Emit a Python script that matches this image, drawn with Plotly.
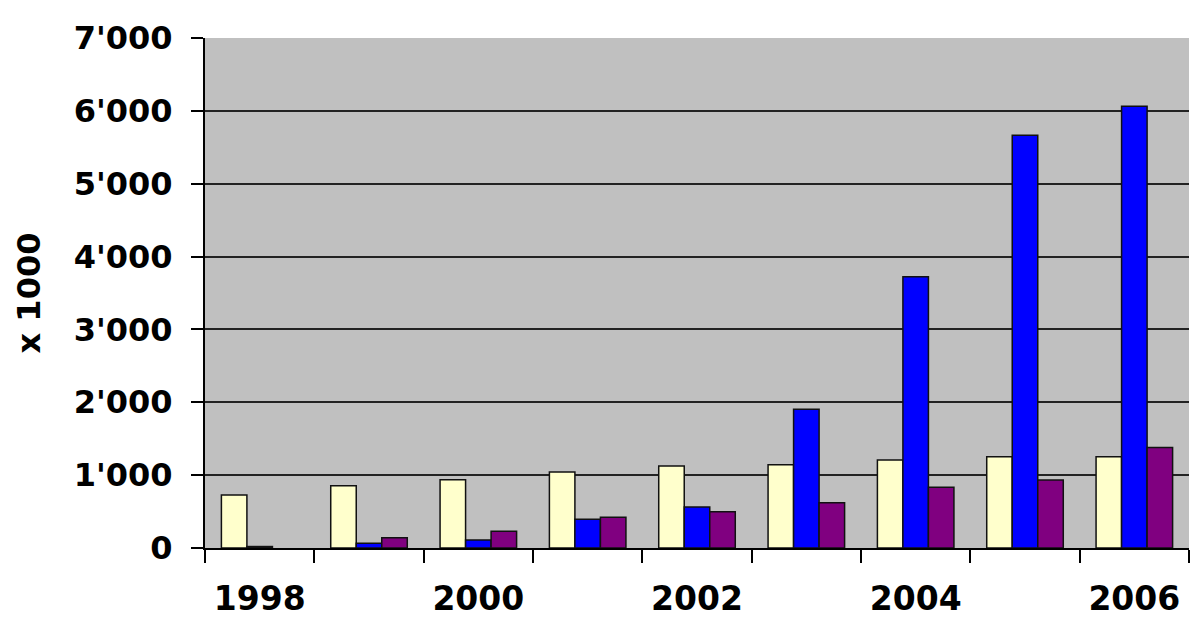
import plotly.graph_objects as go

years = ["1998", "1999", "2000", "2001", "2002", "2003", "2004", "2005", "2006"]
year_labels = ["1998", "", "2000", "", "2002", "", "2004", "", "2006"]
series_a = [727, 855, 937, 1043, 1125, 1143, 1207, 1252, 1252]
series_b = [20, 64, 110, 394, 562, 1903, 3722, 5665, 6063]
series_c = [None, 141, 230, 421, 498, 622, 833, 933, 1381]
y_ticks = [0, 1000, 2000, 3000, 4000, 5000, 6000, 7000]
y_tick_text = ["0", "1'000", "2'000", "3'000", "4'000", "5'000", "6'000", "7'000"]

colors = ["#FFFFCC", "#0000FF", "#800080"]
font = "DejaVu Sans, Verdana, sans-serif"

fig = go.Figure()
for vals, col in zip([series_a, series_b, series_c], colors):
    fig.add_trace(go.Bar(x=years, y=vals, marker=dict(color=col, line=dict(color="#111111", width=1.5))))

fig.update_layout(
    width=1200, height=621,
    margin=dict(l=205, r=11, t=38, b=73),
    paper_bgcolor="white", plot_bgcolor="#C0C0C0",
    barmode="group", bargap=0.3, bargroupgap=0,
    showlegend=False,
    font=dict(family=font, color="black"),
)
fig.update_xaxes(
    type="category", tickmode="array", tickvals=years, ticktext=year_labels,
    tickson="boundaries", ticks="outside", ticklen=13, tickwidth=2, tickcolor="black",
    showline=True, linecolor="black", linewidth=2, showgrid=False,
    tickfont=dict(family=font, size=33, color="black", weight="bold"),
    ticklabelstandoff=20, automargin=False,
)
fig.update_yaxes(
    range=[0, 7000], tickmode="array", tickvals=y_ticks, ticktext=y_tick_text,
    ticks="outside", ticklen=12, tickwidth=2, tickcolor="black",
    showline=True, linecolor="black", linewidth=2,
    showgrid=True, gridcolor="#222222", gridwidth=1.5, zeroline=False,
    tickfont=dict(family=font, size=32, color="black", weight="bold"),
    ticklabelstandoff=12, automargin=False,
    title=dict(text="x 1000", font=dict(family=font, size=32, color="black", weight="bold"), standoff=24),
)
fig.write_html("out.html")
